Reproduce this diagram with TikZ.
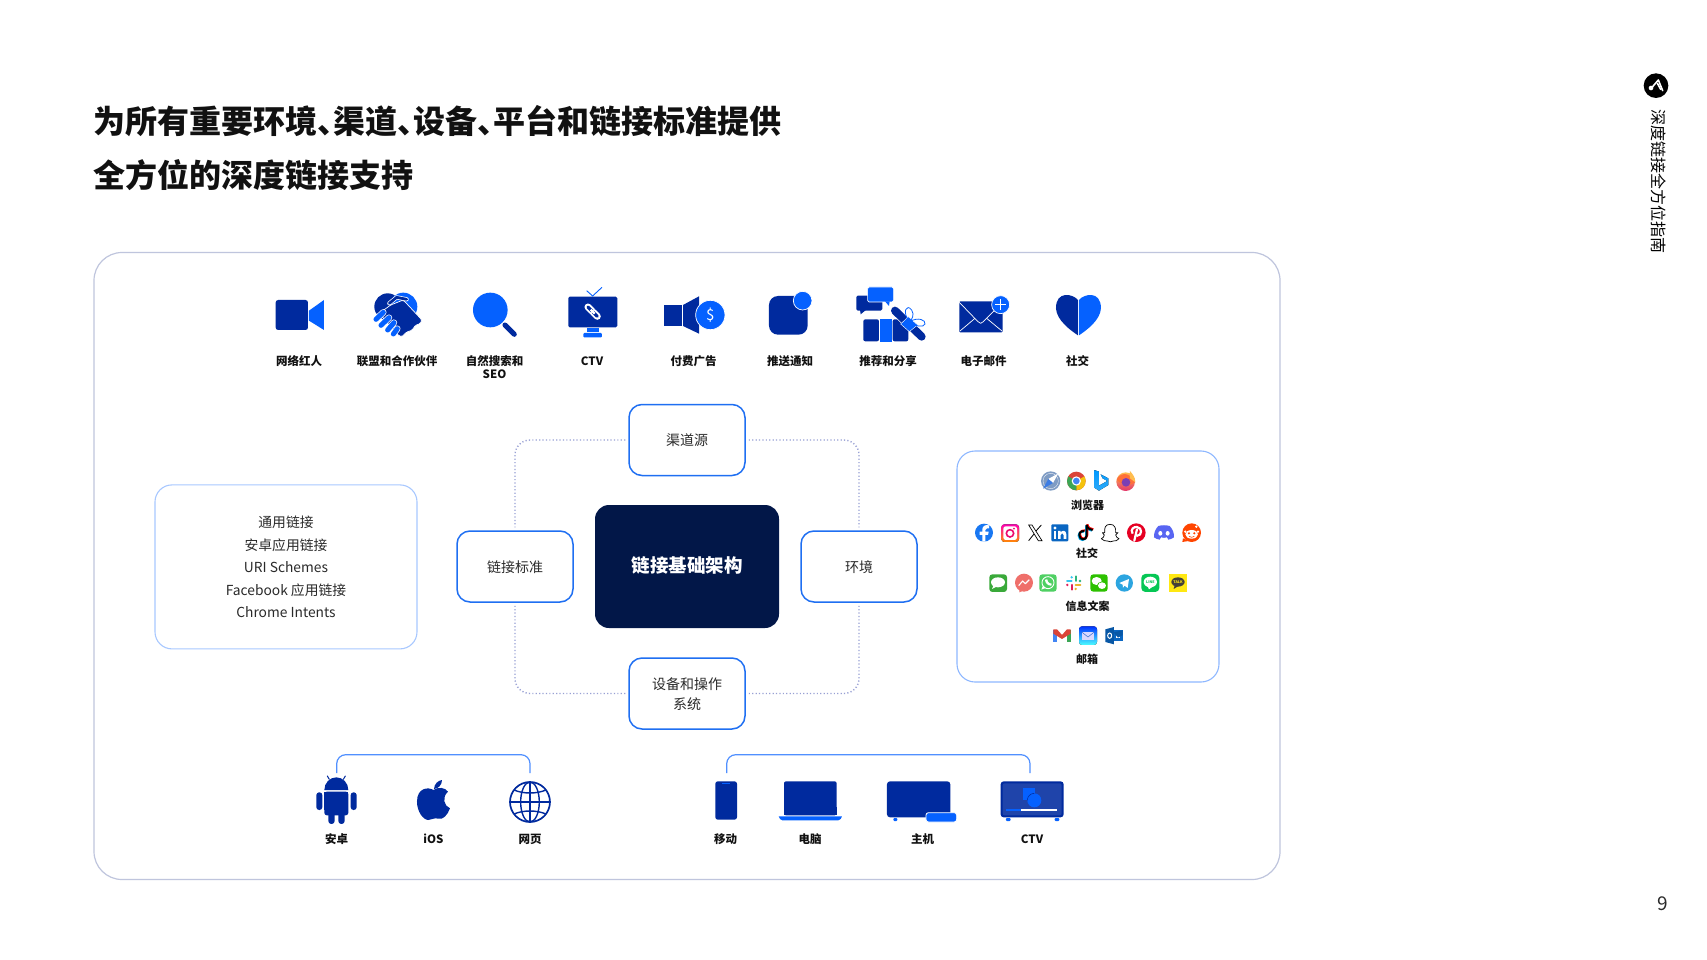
\documentclass[tikz,border=0pt]{standalone}
\usepackage{fontspec}
\setmainfont{Noto Sans CJK SC}
\usetikzlibrary{calc}
\definecolor{dk}{HTML}{002A9E}
\definecolor{br}{HTML}{0561FF}
\definecolor{navy}{HTML}{021748}
\definecolor{txt}{HTML}{111111}
\definecolor{soft}{HTML}{2A2A2A}
\definecolor{edgeb}{HTML}{1F6FF2}
\definecolor{dotg}{HTML}{98A0D4}
\definecolor{panelg}{HTML}{BFC5DD}
\definecolor{fbb}{HTML}{1877F2}
\definecolor{lkb}{HTML}{0A66C2}
\definecolor{pntr}{HTML}{E60023}
\definecolor{dsc}{HTML}{5865F2}
\definecolor{red1}{HTML}{FF4500}
\definecolor{msg}{HTML}{3AA93A}
\definecolor{msr}{HTML}{EF6F6A}
\definecolor{wap}{HTML}{4FD063}
\definecolor{wct}{HTML}{2DC100}
\definecolor{tgm}{HTML}{2CA5E0}
\definecolor{lin}{HTML}{06C755}
\definecolor{kak}{HTML}{FFE812}
\definecolor{saf}{HTML}{7F9CC4}
\definecolor{chr}{HTML}{DB4437}
\definecolor{chy}{HTML}{F4C20D}
\definecolor{chg}{HTML}{3CA655}
\definecolor{chb}{HTML}{4285F4}
\definecolor{ffo}{HTML}{FF7139}
\definecolor{ffy}{HTML}{FFBD4F}
\definecolor{ffp}{HTML}{7B3FB5}
\definecolor{ffm}{HTML}{E3356B}
\definecolor{skc}{HTML}{36C5F0}
\definecolor{skg}{HTML}{2EB67D}
\definecolor{sky}{HTML}{ECB22E}
\definecolor{skp}{HTML}{E01E5A}
\newcommand\pxf[2]{\fontsize{#1}{#2}\selectfont}
\newcommand\dun{、\kern-16pt}
\tikzset{
 lbl/.style={font=\pxf{11.5}{13}\bfseries,text=txt,inner sep=0pt,align=center},
 lblb/.style={font=\pxf{11}{13}\bfseries,text=txt,inner sep=0pt,align=center},
 ttl/.style={font=\pxf{32}{36}\bfseries,text=txt,inner sep=0pt,anchor=west},
 spoke/.style={draw=edgeb,line width=1.5pt,fill=white,rounded corners=13pt,minimum width=116pt,minimum height=71pt,inner sep=0pt},
 spoketext/.style={inner sep=0pt,align=center,text=soft,font=\pxf{14}{20}},
 dotc/.style={draw=dotg,line width=1.4pt,dash pattern=on 1.2pt off 2.2pt,rounded corners=15pt,shorten >=3pt,shorten <=3pt},
 brk/.style={draw=br!70!white,line width=1.2pt,rounded corners=9pt},
 zA/.style={shift={(240,270)},x=.3333pt,y=-.3333pt},
 zB/.style={shift={(640,270)},x=.3333pt,y=-.3333pt},
 zC/.style={shift={(950,445)},x=.3333pt,y=-.3333pt},
 zD/.style={shift={(290,740)},x=.3333pt,y=-.3333pt},
 zE/.style={shift={(690,740)},x=.3333pt,y=-.3333pt},
 zF/.style={shift={(1620,60)},x=.3333pt,y=-.3333pt},
}
\begin{document}
\begin{tikzpicture}[x=1pt,y=-1pt]
\useasboundingbox[fill=white] (0,0) rectangle (1707,960);

% titles
\node[ttl] (t1) at (93,121) {为所有重要环境\dun 渠道\dun 设备\dun 平台和链接标准提供};
\node[ttl] (t2) at (93,175) {全方位的深度链接支持};

% outer panel
\node[draw=panelg,line width=1.2pt,rounded corners=28pt,minimum width=1186pt,minimum height=627pt,inner sep=0pt] (panel) at (687,566) {};

% centre structure
\node[fill=navy,rounded corners=14pt,minimum width=184pt,minimum height=123pt,inner sep=0pt] (core) at (687,566.5) {};
\node[inner sep=0pt,text=white,font=\pxf{18.5}{22}\bfseries] (coreT) at ([yshift=1pt]core.center) {链接基础架构};
\node[spoke] (top) at (687,440) {};
\node[spoke] (lft) at (515,566.5) {};
\node[spoke] (rgt) at (859,566.5) {};
\node[spoke] (bot) at (687,693.5) {};
\node[spoketext] (topT) at (top.center) {渠道源};
\node[spoketext] (lftT) at ([yshift=-.8pt]lft.center) {链接标准};
\node[spoketext] (rgtT) at ([yshift=-.8pt]rgt.center) {环境};
\node[spoketext] (botT) at ([yshift=-1pt]bot.center) {设备和操作\\系统};
\draw[dotc] (top.west) -| (lft.north);
\draw[dotc] (top.east) -| (rgt.north);
\draw[dotc] (bot.west) -| (lft.south);
\draw[dotc] (bot.east) -| (rgt.south);

% left box
\node[draw=br!35!white,line width=1.1pt,rounded corners=17pt,minimum width=262pt,minimum height=164pt,inner sep=0pt,align=center,text=soft,font=\pxf{13.8}{22.5}] (links) at (286,566.9) {通用链接\\安卓应用链接\\URI Schemes\\Facebook 应用链接\\Chrome Intents};

% right box
\node[draw=br!45!white,line width=1.1pt,rounded corners=18pt,minimum width=262pt,minimum height=231pt,inner sep=0pt] (apps) at (1088,566.5) {};

% top icon labels
\node[lbl] (l1) at (299,361) {网络红人};
\node[lbl] (l2) at (397,361) {联盟和合作伙伴};
\node[lbl] (l3) at (494.5,367.5) {自然搜索和\\SEO};
\node[lbl] (l4) at (592,361) {CTV};
\node[lbl] (l5) at (693.5,361) {付费广告};
\node[lbl] (l6) at (790,361) {推送通知};
\node[lbl] (l7) at (888,361) {推荐和分享};
\node[lbl] (l8) at (983.5,361) {电子邮件};
\node[lbl] (l9) at (1077.5,361) {社交};

% bottom labels
\node[lbl] (b1) at (336.5,839.3) {安卓};
\node[lbl] (b2) at (433.5,838.7) {iOS};
\node[lbl] (b3) at (530,839.3) {网页};
\node[lbl] (b4) at (725.5,839.3) {移动};
\node[lbl] (b5) at (810,839.3) {电脑};
\node[lbl] (b6) at (922.5,839.3) {主机};
\node[lbl] (b7) at (1032,839.3) {CTV};

% right box labels
\node[lblb] (r1) at (1087.5,505) {浏览器};
\node[lblb] (r2) at (1087,553.5) {社交};
\node[lblb] (r3) at (1087.5,606) {信息文案};
\node[lblb] (r4) at (1087,659) {邮箱};

% brackets
\coordinate (ba) at (336.7,773); \coordinate (bb) at (530,773);
\coordinate (bc) at (726.7,773); \coordinate (bd) at (1030,773);
\draw[brk] (ba) |- (433,754.7) -| (bb);
\draw[brk] (bc) |- (880,754.7) -| (bd);

% page number and side title
\node[inner sep=0pt,text=soft,font=\pxf{19}{21}] (pg) at (1662.7,903.5) {9};
\node[inner sep=0pt,text=black,rotate=-90,font=\pxf{16}{18}] (side) at (1658.5,181.5) {深度链接全方位指南};

% ---- ICONS row 1 (zoom A)
\begin{scope}[zA]
 % video
 \fill[dk,rounded corners=2.5pt] (107,90) rectangle (204,180);
 \fill[br] (207,122)--(252,90)--(252,180)--(207,152)--cycle;
 % handshake
 \fill[dk] (443,110) circle (40);
 \fill[br] (490,110) circle (42);
 \fill[dk,draw=white,line width=.7pt,rounded corners=1.5pt] (452,105)--(490,90)--(546,150)--(540,162)--(527,165)--(516,181)--(500,186)--(485,201)--(470,192)--(418,130)--cycle;
 \draw[white,line width=4.2pt,line cap=round,line join=round] (448,100)--(470,82)--(500,88);
 \draw[dk,line width=2.8pt,line cap=round,line join=round] (448,100)--(470,82)--(500,88);
 \foreach \a/\b/\c/\d in {408/148/430/127, 423/166/447/143, 443/180/462/158, 460/192/472/176}{
  \draw[white,line width=6.4pt,line cap=round] (\a,\b)--(\c,\d);
  \draw[br,line width=5pt,line cap=round] (\a,\b)--(\c,\d);}
 % magnifier
 \draw[dk,line width=5pt,line cap=round] (795,165)--(823,193);
 \fill[br] (751,120) circle (52);
 % TV
 \fill[dk,rounded corners=1.5pt] (985,80) rectangle (1132,172);
 \draw[br,line width=.9pt] (1040,62)--(1058,78)--(1086,52);
 \fill[br] (1041,174) rectangle (1077,186);
 \fill[br,rounded corners=1pt] (1030,189) rectangle (1086,202);
 \draw[white,line width=7pt,line cap=round] (1044,111)--(1056,123) (1060,127)--(1072,139);
 \draw[dk,line width=3.2pt,line cap=round] (1044,111)--(1056,123);
 \draw[dk,line width=3.2pt,line cap=round] (1060,127)--(1072,139);
 \draw[white,line width=2.2pt] (1052,119)--(1064,131);
\end{scope}

\begin{scope}[zB]
 % paid ad
 \fill[dk] (72,105) rectangle (126,168);
 \fill[dk] (129,105)--(177,79)--(177,191)--(129,168)--cycle;
 \fill[br,draw=white,line width=.7pt] (211,135) circle (44);
 \node[text=white,inner sep=0pt,font=\pxf{15}{16}] (dollar) at (211,135) {\$};
 % push
 \fill[dk,rounded corners=9pt] (387,78) rectangle (503,194);
 \fill[br,draw=white,line width=.7pt] (488,92) circle (28);
 % gift
 \fill[dk,rounded corners=1.5pt] (649,77) rectangle (727,122);
 \fill[dk] (660,118)--(662,133)--(680,118)--cycle;
 \fill[br,rounded corners=1.5pt,draw=white,line width=.6pt] (683,51) rectangle (761,96);
 \fill[br] (735,94)--(747,108)--(749,94)--cycle;
 \fill[dk,rounded corners=2pt] (670,148) rectangle (717,214);
 \fill[br] (719,148) rectangle (756,216);
 \fill[dk,rounded corners=2pt] (758,148) rectangle (805,214);
 \draw[white,line width=9.4pt,line cap=round] (765,122)--(845,200);
 \draw[dk,line width=8pt,line cap=round] (765,122)--(845,200);
 \fill[br,draw=white,line width=.4pt] (805,140)--(833,165)--(808,185)--(782,162)--cycle;
 \draw[br,line width=.8pt] (808,155) .. controls (785,125) and (800,100) .. (815,120) .. controls (825,135) and (815,150) .. (808,155);
 \draw[br,line width=.8pt] (808,155) .. controls (835,140) and (858,150) .. (855,162) .. controls (850,175) and (825,168) .. (808,155);
 % email
 \fill[dk,rounded corners=1pt] (958,94) rectangle (1088,187);
 \draw[white,line width=.7pt,line join=round] (958,97)--(1014,155)--(1022,160)--(1030,155)--(1088,97);
 \draw[white,line width=.7pt] (960,183)--(1005,145) (1086,183)--(1040,145);
 \fill[br,draw=white,line width=.7pt] (1082,104) circle (27);
 \draw[white,line width=.8pt] (1066,104)--(1098,104) (1082,88)--(1082,120);
 % heart
 \fill[dk] (1314,90) .. controls (1300,72) and (1248,60) .. (1248,115) .. controls (1250,150) and (1290,180) .. (1314,196) -- cycle;
 \fill[br] (1317,90) .. controls (1331,72) and (1383,60) .. (1383,115) .. controls (1381,150) and (1341,180) .. (1317,196) -- cycle;
\end{scope}

% ---- apps (zoom C)
\begin{scope}[zC]
 % safari
 \fill[saf] (302,108) circle (29);
 \draw[white,line width=.3pt] (302,108) circle (23);
 \fill[white] (325,85)--(309,114)--(295,102)--cycle;
 \fill[br!55!saf] (279,131)--(309,114)--(295,102)--cycle;
 % chrome
 \fill[chr] (379,108) circle (28);
 \fill[chy] (379,108) -- (403.2,94) arc[start angle=-30,end angle=90,radius=28] -- cycle;
 \fill[chg] (379,108) -- (379,136) arc[start angle=90,end angle=210,radius=28] -- cycle;
 \fill[white] (379,108) circle (14);
 \fill[chb] (379,108) circle (10);
 % bing
 \fill[top color=cyan!60!blue,bottom color=chb!70!cyan] (433,75)--(447,80)--(447,122)--(472,108)--(458,100)--(452,88)--(475,100)--(475,120)--(447,137)--(433,128)--cycle;
 % firefox
 \shade[top color=ffy,bottom color=ffm] (527,110) circle (28);
 \fill[ffo] (500,105) .. controls (505,90) and (520,85) .. (530,88) -- (545,95) -- (555,110) .. controls (552,120) and (520,125) .. (500,105) -- cycle;
 \fill[ffy] (540,78) .. controls (548,88) and (556,96) .. (556,112) -- (540,100) -- cycle;
 \fill[ffp] (528,112) circle (13);
 % facebook
 \fill[fbb] (102,263) circle (27);
 \fill[white] (97,290)--(97,270)--(89,270)--(89,260)--(97,260)--(97,253) .. controls (97,243) and (107,238) .. (117,241) -- (117,250)--(111,250) .. controls (107,250) and (106,252) .. (106,255) -- (106,260)--(116,260)--(114,270)--(106,270)--(106,290)--cycle;
 % instagram
 \fill[rounded corners=3pt,bottom color=orange!90!yellow,top color=magenta!70!red] (154,238) rectangle (207,291);
 \fill[white,rounded corners=2.4pt] (160,244) rectangle (201,285);
 \draw[magenta!70!red,line width=1.6pt] (180,265) circle (11);
 \fill[magenta!70!red] (192,251) circle (3);
 % X
 \draw[black,line width=.7pt] (236,240)--(246,240)--(276,287)--(265,287)--cycle;
 \draw[black,line width=.8pt] (274,240)--(258,258) (252,267)--(236,287);
 % linkedin
 \fill[lkb,rounded corners=1pt] (304,238) rectangle (355,289);
 \fill[white] (311,258) rectangle (319,282);
 \fill[white] (315,249) circle (5);
 \fill[white] (324,258)--(332,258)--(332,262) .. controls (336,255) and (349,255) .. (349,268) -- (349,282)--(341,282)--(341,270) .. controls (341,263) and (332,263) .. (332,270) -- (332,282)--(324,282)--cycle;
 % tiktok
 \foreach \dx/\dy/\col in {-2/2/cyan, 2/-2/red, 0/0/black}{
 \draw[\col,line width=2pt,shift={(\dx,\dy)}] (410,240)--(410,272) .. controls (410,287) and (388,287) .. (388,270) .. controls (388,259) and (398,257) .. (403,258);
 \draw[\col,line width=2pt,shift={(\dx,\dy)}] (410,240) .. controls (412,250) and (420,255) .. (428,255);}
 % snapchat
 \draw[black,fill=white,line width=.7pt,line join=round] (480,238) .. controls (465,238) and (463,250) .. (464,263) -- (457,263) -- (463,270) .. controls (462,276) and (458,280) .. (454,281) -- (463,287) -- (472,288) .. controls (478,291) and (484,291) .. (490,288) -- (499,287) -- (507,281) .. controls (502,279) and (498,276) .. (497,270) -- (504,263) -- (497,263) .. controls (498,250) and (495,238) .. (480,238) -- cycle;
 % pinterest
 \fill[pntr] (559,263) circle (28);
 \draw[white,line width=2.2pt,line cap=round] (553,287)--(561,253);
 \draw[white,line width=2.2pt] (548,266) .. controls (540,252) and (552,245) .. (561,246) .. controls (578,248) and (576,272) .. (562,272) -- (556,270);
 % discord
 \fill[dsc] (625,243) .. controls (635,240) and (649,240) .. (659,243) .. controls (668,252) and (673,265) .. (672,277) .. controls (667,281) and (661,283) .. (655,284) -- (651,277) .. controls (645,279) and (639,279) .. (633,277) -- (629,284) .. controls (623,283) and (617,281) .. (612,277) .. controls (611,265) and (616,252) .. (625,243) -- cycle;
 \fill[white] (631,265) ellipse (6 and 7) (653,265) ellipse (6 and 7);
 % reddit
 \fill[red1] (725,263) circle (28);
 \fill[red1] (699,280)--(697,291)--(715,288)--cycle;
 \fill[white] (725,268) ellipse (19 and 13);
 \fill[white] (706,260) circle (4) (744,260) circle (4) (739,245) circle (4);
 \fill[red1] (717,265) circle (3.5) (733,265) circle (3.5);
 \draw[red1,line width=.6pt] (717,274) .. controls (722,278) and (728,278) .. (733,274);
 % messages
 \fill[msg,rounded corners=3pt] (118,388) rectangle (171,441);
 \fill[white] (144,412) ellipse (21 and 15);
 \fill[white] (130,422)--(126,432)--(140,425)--cycle;
 % messenger
 \fill[msr] (222,413) circle (27);
 \fill[msr] (208,432)--(208,442)--(222,436)--cycle;
 \draw[white,line width=1.1pt,line join=round] (206,422)--(218,408)--(226,416)--(238,404);
 % whatsapp
 \fill[wap,rounded corners=3pt] (268,388) rectangle (320,440);
 \draw[white,line width=.9pt] (294,413) circle (18);
 \fill[white] (279,422)--(274,434)--(287,429)--cycle;
 \fill[white] (285,404) .. controls (285,415) and (295,423) .. (304,422) -- (305,416) -- (298,414) -- (294,410) -- (292,403) --cycle;
 % slack
 \draw[skc,line width=2pt,line cap=round] (351,408)--(365,408);
 \fill[skc] (365,397) circle (4);
 \draw[skg,line width=2pt,line cap=round] (377,394)--(377,408);
 \fill[skg] (390,408) circle (4);
 \draw[sky,line width=2pt,line cap=round] (377,420)--(391,420);
 \fill[sky] (377,432) circle (4);
 \draw[skp,line width=2pt,line cap=round] (365,420)--(365,434);
 \fill[skp] (352,420) circle (4);
 % wechat
 \fill[wct,rounded corners=3pt] (421,388) rectangle (473,440);
 \fill[white] (440,408) ellipse (15 and 12);
 \fill[wct] (456,422) ellipse (15 and 12);
 \fill[white] (456,422) ellipse (12 and 10);
 % telegram
 \fill[tgm] (523,414) circle (26);
 \fill[white] (508,414)--(537,402)--(533,429)--(524,422)--(519,428)--(518,419)--cycle;
 % line
 \fill[lin,rounded corners=4pt] (574,387) rectangle (628,441);
 \fill[white] (601,411) ellipse (20 and 16);
 \fill[white] (593,424)--(597,433)--(608,425)--cycle;
 \node[inner sep=0pt,text=lin,font=\pxf{3.6}{4}\bfseries] (linetxt) at (601,411) {LINE};
 % kakao
 \fill[kak] (658,388) rectangle (710,440);
 \fill[black!85!yellow] (684,411) ellipse (20 and 14);
 \fill[black!85!yellow] (674,421)--(671,432)--(684,424)--cycle;
 \node[inner sep=0pt,text=kak,font=\pxf{3.6}{4}\bfseries] (talktxt) at (684,411) {TALK};
 % gmail
 \fill[chb] (310,556) rectangle (321,590);
 \fill[chg] (351,556) rectangle (362,590);
 \fill[chr] (310,553)--(321,553)--(336,570)--(351,553)--(362,553)--(362,566)--(336,582)--(310,566)--cycle;
 % mail
 \fill[bottom color=cyan!70!white,top color=blue!80!cyan,rounded corners=3pt] (387,544) rectangle (441,600);
 \fill[white!85!blue] (395,561) rectangle (433,585);
 \draw[br!60!gray,line width=.5pt] (395,561)--(414,576)--(433,561);
 % outlook
 \fill[lkb] (490,556) rectangle (518,589);
 \fill[white] (497,568)--(511,568)--(511,580)--(497,580)--cycle;
 \fill[lkb!85!black] (491,562)--(518,556)--(518,570)--(504,578)--cycle;
 \fill[lkb!85!black] (466,553)--(492,546)--(492,598)--(466,591)--cycle;
 \draw[white,line width=1pt] (479,572) ellipse (6 and 8);
\end{scope}

% ---- bottom (zoom D)
\begin{scope}[zD]
 % android
 \fill[dk] (103,150) arc[start angle=180,end angle=0,x radius=36,y radius=-38] -- cycle;
 \draw[dk,line width=1pt,line cap=round] (118,118)--(112,108) (160,118)--(166,108);
 \fill[dk,rounded corners=2.5pt] (103,155) rectangle (175,226);
 \fill[dk] (103,155) rectangle (175,210);
 \fill[dk,rounded corners=2.8pt] (79,157) rectangle (97,210);
 \fill[dk,rounded corners=2.8pt] (182,157) rectangle (200,210);
 \fill[dk,rounded corners=3pt] (115,215) rectangle (134,252);
 \fill[dk,rounded corners=3pt] (145,215) rectangle (164,252);
 % apple
 \fill[dk] (430,150) .. controls (415,140) and (381,143) .. (381,185) .. controls (381,215) and (400,240) .. (415,240) .. controls (425,240) and (432,232) .. (445,236) .. controls (458,241) and (473,225) .. (480,205) .. controls (462,198) and (455,172) .. (474,155) .. controls (465,142) and (445,140) .. (430,150) -- cycle;
 \fill[dk] (432,147) .. controls (433,132) and (443,122) .. (456,120) .. controls (456,135) and (445,146) .. (432,147) -- cycle;
 % globe
 \draw[dk,line width=1.7pt] (720,186) circle (60);
 \draw[dk,line width=1.4pt] (720,186) ellipse (28 and 60);
 \draw[dk,line width=1.4pt] (720,126)--(720,246) (660,186)--(780,186);
 \draw[dk,line width=1.4pt] (672,150) .. controls (700,162) and (740,162) .. (768,150);
 \draw[dk,line width=1.4pt] (672,222) .. controls (700,210) and (740,210) .. (768,222);
\end{scope}

\begin{scope}[zE]
 % phone
 \fill[dk,rounded corners=2.5pt] (76,124) rectangle (141,239);
 \fill[br] (96,129) rectangle (120,133);
 % laptop
 \fill[dk,rounded corners=2pt] (282,124) rectangle (440,226);
 \fill[dk] (282,200) rectangle (440,225);
 \fill[br] (266,229)--(456,229)--(452,237) .. controls (450,241) and (448,241) .. (445,241) -- (277,241) .. controls (274,241) and (272,241) .. (270,237) -- cycle;
 % console
 \fill[dk,rounded corners=3pt] (591,124) rectangle (781,232);
 \fill[br,rounded corners=1pt] (610,234) rectangle (622,243);
 \fill[br,rounded corners=2.5pt,draw=white,line width=.8pt] (708,218) rectangle (800,246);
 % ctv
 \fill[dk,rounded corners=3pt] (932,124) rectangle (1121,232);
 \fill[dk!88!white,rounded corners=2pt] (938,130) rectangle (1115,226);
 \fill[br] (998,145) rectangle (1034,180);
 \fill[br] (1033,181) circle (21);
 \draw[dk,line width=.5pt] (1012,181) arc[start angle=180,end angle=270,radius=21];
 \draw[br,line width=1.2pt] (948,210)--(993,210);
 \draw[white,line width=1.2pt] (993,210)--(1101,210);
 \fill[br,rounded corners=1pt] (948,234) rectangle (962,243);
 \fill[br,rounded corners=1pt] (1094,234) rectangle (1108,243);
\end{scope}

% logo
\begin{scope}[zF]
 \fill[black] (108,77) circle (37);
 \draw[white,line width=1.6pt,line join=round,line cap=round] (96,82)--(115,60)--(128,92);
 \draw[white,line width=1.6pt,line cap=round] (112,70)--(122,88);
 \fill[white] (93,84) circle (7);
\end{scope}
\end{tikzpicture}
\end{document}
